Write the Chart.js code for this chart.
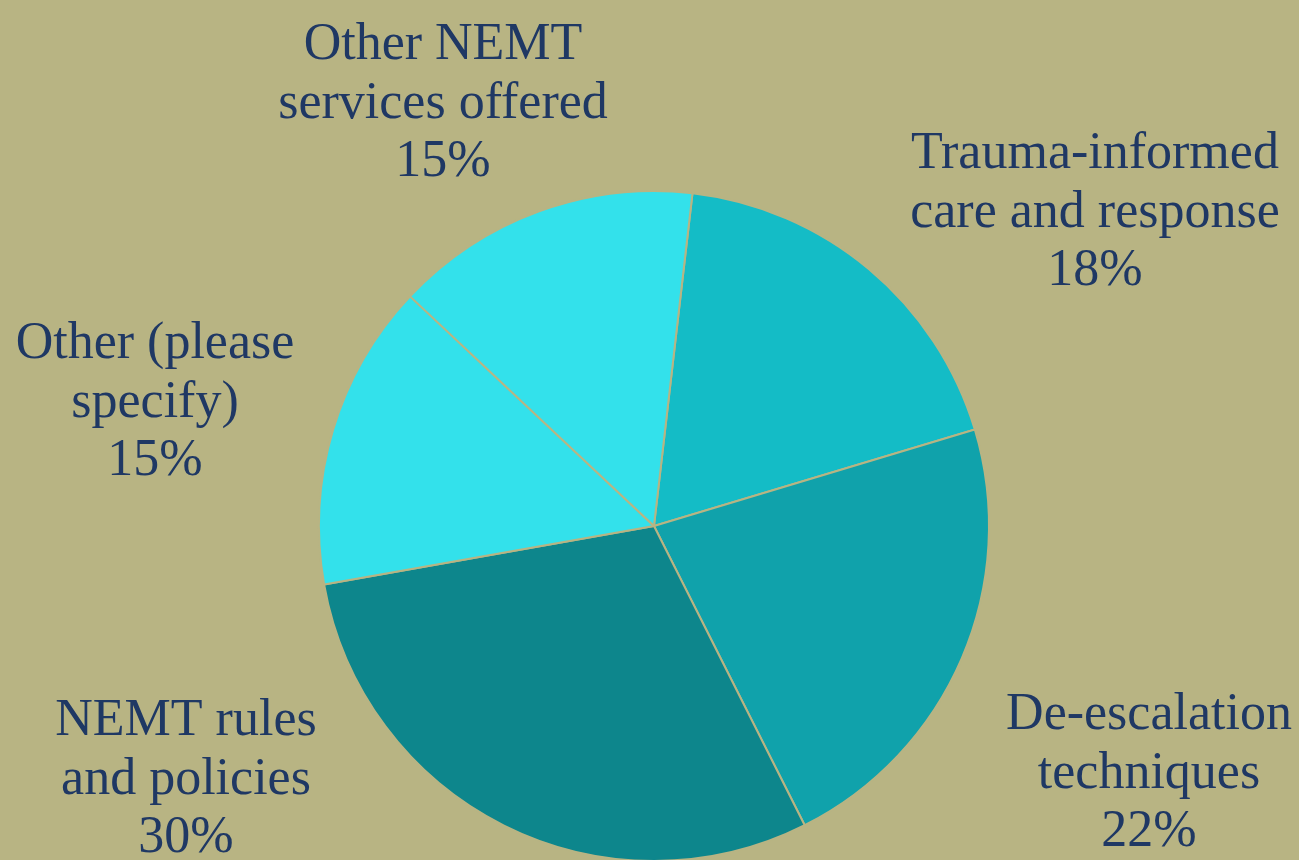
<!DOCTYPE html>
<html>
<head>
<meta charset="utf-8">
<title>Training topics</title>
<script src="https://cdn.jsdelivr.net/npm/chart.js@4/dist/chart.umd.min.js"></script>
<style>
    html, body { margin: 0; padding: 0; background: #B8B483; overflow: hidden; height: 860px; }
    #wrap { width: 1299px; height: 862px; position: relative; }
</style>
</head>
<body>
<div id="wrap"><canvas id="pieChart"></canvas></div>
<script>
// Slices, clockwise from the top
const categories = [
    ['Trauma-informed', 'care and response'],
    ['De-escalation', 'techniques'],
    ['NEMT rules', 'and policies'],
    ['Other (please', 'specify)'],
    ['Other NEMT', 'services offered']
];
const shares = [18.5, 22.2, 29.6, 14.8, 14.8];
const pctLabels = ['18%', '22%', '30%', '15%', '15%'];
const sliceColors = ['#14BCC6', '#10A2AB', '#0D868C', '#33E1EB', '#33E1EB'];

// Where each label block sits, relative to the pie centre (first baseline)
const labelOffsets = [[441, -358], [495, 203], [-468, 209], [-499, -168], [-211, -467]];

const outsideLabels = {
    id: 'outsideLabels',
    afterDraw(chart) {
        const ctx = chart.ctx;
        const arc = chart.getDatasetMeta(0).data[0];
        ctx.save();
        ctx.font = '52px "Liberation Serif", "Times New Roman", serif';
        ctx.fillStyle = '#1F3864';
        ctx.textAlign = 'center';
        ctx.textBaseline = 'alphabetic';
        categories.forEach((lines, i) => {
            const x = arc.x + labelOffsets[i][0];
            let y = arc.y + labelOffsets[i][1];
            lines.concat([pctLabels[i]]).forEach(line => {
                ctx.fillText(line, x, y);
                y += 58.5;
            });
        });
        ctx.restore();
    }
};

document.addEventListener('DOMContentLoaded', function() {
    const ctx = document.getElementById('pieChart').getContext('2d');
    new Chart(ctx, {
        type: 'pie',
        data: {
            labels: categories.map(c => c.join(' ')),
            datasets: [{
                data: shares,
                backgroundColor: sliceColors,
                borderColor: '#B8B483',
                borderWidth: 2
            }]
        },
        options: {
            responsive: true,
            maintainAspectRatio: false,
            animation: false,
            rotation: 6.6,
            layout: { padding: { left: 9, right: 0, top: 190, bottom: 0 } },
            plugins: {
                legend: { display: false },
                tooltip: { enabled: false }
            }
        },
        plugins: [outsideLabels]
    });
});
</script>
</body>
</html>
